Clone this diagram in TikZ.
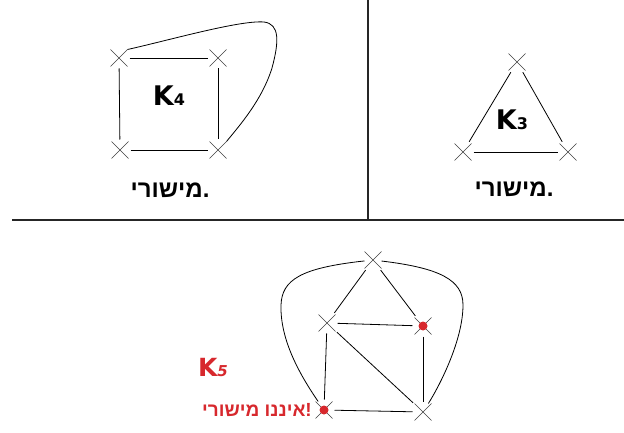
\documentclass[tikz,border=0pt]{standalone}
\usepackage{fontspec}
\setmainfont{DejaVu Sans}
\newfontfamily\hebfont[Script=Hebrew]{Liberation Sans}
\TeXXeTstate=1
\usetikzlibrary{shapes.misc}
\definecolor{kred}{RGB}{215,40,45}
\begin{document}
\begin{tikzpicture}[x=1pt,y=-1pt,
  vx/.style={cross out,draw=black!75,line width=0.6pt,minimum size=13pt,inner sep=0pt,outer sep=2pt},
  edge/.style={draw=black,line width=0.8pt,shorten <=2pt,shorten >=2pt},
  lbl/.style={font=\bfseries\fontsize{27}{27}\selectfont,inner sep=0pt},
  heb/.style={font=\hebfont\bfseries\fontsize{24}{24}\selectfont,inner sep=0pt}]
\useasboundingbox (0,0) rectangle (624,433);
% dividers
\coordinate (hl) at (12,220);
\coordinate (hr) at (624,220);
\coordinate (vt) at (368,0);
\coordinate (vb) at (368,220);
\draw[line width=1.2pt,black!85] (hl) -- (hr);
\draw[line width=1.2pt,black!85] (vt) -- (vb);
% K4
\node[vx] (a1) at (119,58) {};
\node[vx] (a2) at (218,58) {};
\node[vx] (a3) at (120,150) {};
\node[vx] (a4) at (218,150) {};
\path[edge] (a1) -- (a2);
\path[edge] (a1) -- (a3);
\path[edge] (a2) -- (a4);
\path[edge] (a3) -- (a4);
\draw[line width=0.8pt] (a1.north east) .. controls (170,40) and (240,20) .. (264,22)
  .. controls (280,24) and (279,42) .. (272,68)
  .. controls (262,100) and (240,125) .. (a4.north east);
\node[lbl] (k4) at (169,96) {K\fontsize{16}{16}\selectfont 4};
\node[heb] (t4) at (170,190) {\beginR .מישורי\endR};
% K3
\node[vx] (b1) at (517,62) {};
\node[vx] (b2) at (463,152) {};
\node[vx] (b3) at (568,152) {};
\path[edge] (b1) -- (b2);
\path[edge] (b1) -- (b3);
\path[edge] (b2) -- (b3);
\node[lbl] (k3) at (512,120) {K\fontsize{16}{16}\selectfont 3};
\node[heb] (t3) at (514,189) {\beginR .מישורי\endR};
% K5
\node[vx] (c1) at (373,260) {};
\node[vx] (c2) at (327,323) {};
\node[vx] (c3) at (423,326) {};
\node[vx] (c4) at (324,410) {};
\node[vx] (c5) at (423,412) {};
\fill[kred] (c3) circle (4.5pt);
\fill[kred] (c4) circle (4.5pt);
\path[edge] (c1) -- (c2);
\path[edge] (c1) -- (c3);
\path[edge] (c2) -- (c3);
\path[edge] (c2) -- (c4);
\path[edge] (c2) -- (c5);
\path[edge] (c3) -- (c5);
\path[edge] (c4) -- (c5);
\draw[line width=0.8pt] (c1) .. controls (300,268) and (282,280) .. (281,305)
  .. controls (280,340) and (300,375) .. (c4);
\draw[line width=0.8pt] (c1) .. controls (440,268) and (463,280) .. (463,305)
  .. controls (463,340) and (440,385) .. (c5);
\node[lbl,text=kred,font=\bfseries\fontsize{25}{25}\selectfont] (k5) at (213,367) {K\fontsize{15}{15}\selectfont\itshape 5};
\node[heb,text=kred,font=\hebfont\bfseries\fontsize{19}{19}\selectfont] (t5) at (257,410) {\beginR !איננו מישורי\endR};
\end{tikzpicture}
\end{document}
